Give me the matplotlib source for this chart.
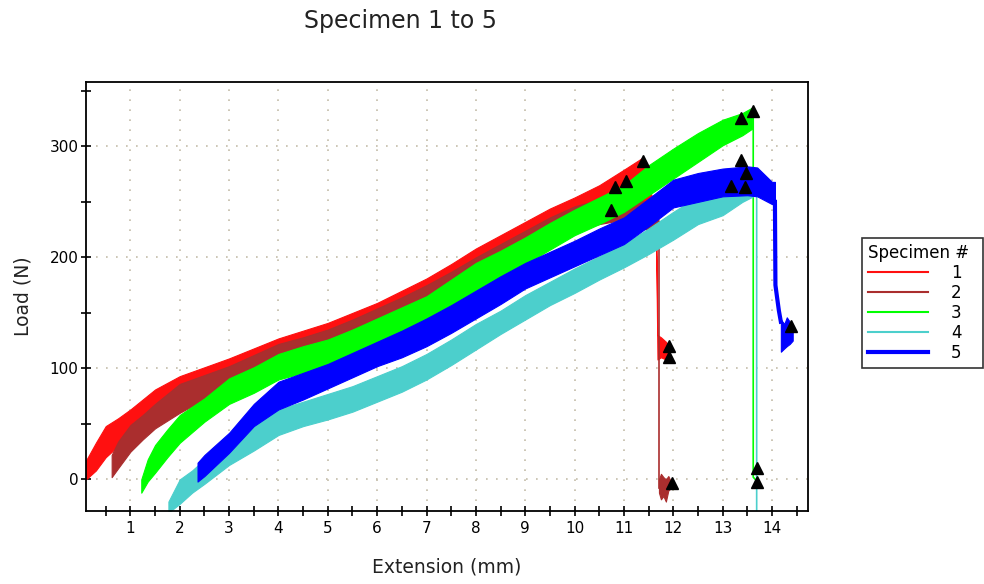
import matplotlib
matplotlib.use('Agg')
import matplotlib.pyplot as plt
from matplotlib.lines import Line2D
from matplotlib.ticker import MultipleLocator

# ---------------------------------------------------------------------------
# data (noise shown as low/high envelope per curve)
# ---------------------------------------------------------------------------
labels = ['1', '2', '3', '4', '5']
colors = ['#ff1010', '#aa2e2e', '#00ff00', '#4ccfcc', '#0000ff']

# specimen 1
x1 = [0.1, 0.3, 0.5, 0.75, 1.0, 1.5, 2.0, 2.5, 3.0, 3.5, 4.0, 4.5, 5.0, 5.5, 6.0,
      6.5, 7.0, 7.5, 8.0, 8.5, 9.0, 9.5, 10.0, 10.5, 11.0, 11.35, 11.5, 11.65,
      11.68, 11.75, 11.85, 11.92]
lo1 = [0, 8, 20, 30, 38, 52, 67, 75, 84, 93, 102, 107, 113, 122, 132,
       143, 154, 165, 177, 189, 201, 213, 225, 236, 252, 255, 232, 220,
       108, 110, 108, 108]
hi1 = [17, 33, 48, 55, 63, 81, 93, 101, 109, 118, 127, 134, 141, 150, 159,
       170, 181, 194, 208, 220, 232, 244, 254, 265, 279, 289, 265, 242,
       130, 128, 124, 120]

# specimen 2
x2 = [0.62, 0.75, 1.0, 1.25, 1.5, 2.0, 2.5, 3.0, 3.5, 4.0, 4.5, 5.0, 5.5, 6.0,
      6.5, 7.0, 7.5, 8.0, 8.5, 9.0, 9.5, 10.0, 10.5, 11.0, 11.3, 11.6, 11.7]
lo2 = [2, 10, 25, 36, 46, 60, 72, 78, 90, 100, 108, 114, 123, 133,
       144, 155, 166, 178, 190, 202, 212, 224, 230, 234, 228, 222, 223]
hi2 = [22, 34, 49, 58, 68, 86, 94, 102, 112, 122, 128, 135, 144, 154,
       164, 175, 187, 200, 212, 224, 236, 246, 252, 254, 252, 247, 242]
drop2_x = [11.71, 11.71]
drop2_y = [232, -8]
tail2_x = [11.71, 11.75, 11.8, 11.85, 11.9, 11.95]
tail2_lo = [-12, -18, -15, -20, -10, -8]
tail2_hi = [0, 5, 2, 0, 3, -2]

# specimen 3
x3 = [1.22, 1.35, 1.5, 1.75, 2.0, 2.5, 3.0, 3.5, 4.0, 4.5, 5.0, 5.5, 6.0, 6.5,
      7.0, 7.5, 8.0, 8.5, 9.0, 9.5, 10.0, 10.5, 11.0, 11.5, 12.0, 12.5, 13.0,
      13.4, 13.6]
lo3 = [-12, -2, 6, 20, 33, 52, 68, 78, 90, 96, 101, 112, 123, 132,
       142, 156, 170, 182, 194, 207, 220, 230, 241, 256, 271, 286, 301,
       310, 316]
hi3 = [0, 18, 31, 45, 58, 73, 91, 101, 113, 120, 126, 135, 145, 155,
       165, 180, 195, 206, 218, 231, 243, 254, 265, 283, 298, 312, 324,
       330, 335]
drop3_x = [13.62, 13.62, 13.66]
drop3_y = [330, 2, 0]

# specimen 4
x4 = [1.77, 2.0, 2.25, 2.5, 3.0, 3.5, 4.0, 4.5, 5.0, 5.5, 6.0, 6.5, 7.0, 7.5,
      8.0, 8.5, 9.0, 9.5, 10.0, 10.5, 11.0, 11.5, 12.0, 12.5, 13.0, 13.4, 13.62]
lo4 = [-30, -22, -12, -4, 13, 26, 40, 48, 54, 61, 70, 79, 90, 103,
       117, 131, 144, 157, 168, 180, 191, 203, 216, 230, 238, 250, 255]
hi4 = [-20, 0, 8, 18, 35, 49, 63, 70, 77, 84, 93, 102, 113, 126,
       140, 152, 166, 178, 190, 201, 212, 226, 241, 255, 262, 266, 268]
drop4_x = [13.66, 13.69, 13.69]
drop4_y = [262, 255, -40]

# specimen 5
x5 = [2.36, 2.5, 3.0, 3.5, 4.0, 4.5, 5.0, 5.5, 6.0, 6.5, 7.0, 7.5, 8.0, 8.5,
      9.0, 9.5, 10.0, 10.5, 11.0, 11.5, 12.0, 12.5, 13.0, 13.5, 13.7, 14.0, 14.06]
lo5 = [-2, 3, 24, 48, 63, 72, 82, 92, 102, 110, 120, 132, 145, 158,
       172, 182, 192, 202, 212, 228, 245, 250, 255, 256, 255, 248, 248]
hi5 = [15, 22, 42, 68, 88, 96, 104, 114, 124, 134, 145, 157, 170, 183,
       195, 205, 215, 226, 236, 253, 270, 276, 280, 282, 281, 268, 268]
drop5_x = [14.06, 14.07, 14.1, 14.14, 14.18]
drop5_y = [250, 175, 165, 152, 142]
tail5_x = [14.18, 14.25, 14.3, 14.36, 14.42]
tail5_lo = [115, 118, 120, 122, 125]
tail5_hi = [144, 140, 146, 142, 138]

# result markers (black triangles)
mark_x = [10.74, 10.82, 11.05, 11.38, 11.91, 11.91, 11.97,
          13.38, 13.62, 13.69, 13.69, 13.16, 13.45, 13.38, 13.48, 14.38]
mark_y = [243, 263, 269, 287, 120, 110, -3,
          326, 332, 10, -2, 264, 263, 288, 276, 138]

# ---------------------------------------------------------------------------
fig = plt.figure(figsize=(9.84, 5.84), dpi=100)
ax = fig.add_axes([86 / 984, 1 - 511 / 584, 722 / 984, 429 / 584])

ax.fill_between(x1, lo1, hi1, color=colors[0], lw=0.8, zorder=2)
ax.fill_between(x2, lo2, hi2, color=colors[1], lw=0.8, zorder=2)
ax.plot(drop2_x, drop2_y, color=colors[1], lw=1.2, zorder=2)
ax.fill_between(tail2_x, tail2_lo, tail2_hi, color=colors[1], lw=0.8, zorder=2)
ax.fill_between(x3, lo3, hi3, color=colors[2], lw=0.8, zorder=2)
ax.plot(drop3_x, drop3_y, color=colors[2], lw=1.2, zorder=2)
ax.fill_between(x4, lo4, hi4, color=colors[3], lw=0.8, zorder=2)
ax.plot(drop4_x, drop4_y, color=colors[3], lw=1.2, zorder=2)
ax.fill_between(x5, lo5, hi5, color=colors[4], lw=0.8, zorder=2)
ax.plot(drop5_x, drop5_y, color=colors[4], lw=3, zorder=2)
ax.fill_between(tail5_x, tail5_lo, tail5_hi, color=colors[4], lw=0.8, zorder=2)

ax.plot(mark_x, mark_y, ls='none', marker='^', ms=8, color='black', zorder=4)

ax.set_xlim(0.1, 14.73)
ax.set_ylim(-28.5, 358)
ax.xaxis.set_major_locator(MultipleLocator(1))
ax.xaxis.set_minor_locator(MultipleLocator(0.5))
ax.yaxis.set_major_locator(MultipleLocator(100))
ax.yaxis.set_minor_locator(MultipleLocator(50))
ax.tick_params(which='both', direction='inout', length=7, width=1.2,
               labelsize=11, top=False, right=False)
ax.tick_params(axis='y', pad=2)
ax.grid(True, which='major', color='#c3bca9', linestyle=(0, (1, 5)), lw=1.2)
for s in ax.spines.values():
    s.set_linewidth(1.3)
    s.set_color('black')

ax.set_xlabel('Extension (mm)', fontsize=13.5, color='#222222', labelpad=16)
ax.set_ylabel('Load (N)', fontsize=13.5, color='#222222', labelpad=12)
fig.text(400 / 984, 1 - 21 / 584, 'Specimen 1 to 5', fontsize=17,
         ha='center', va='center', color='#222222')

handles = [Line2D([], [], color=c, lw=(3 if i == 4 else 1.5))
           for i, c in enumerate(colors)]
leg = fig.legend(handles, labels, title='Specimen #', loc='upper left',
                 bbox_to_anchor=(862 / 984, 1 - 375 / 584, 121 / 984, 137 / 584),
                 mode='expand',
                 fontsize=12, title_fontsize=12, frameon=True, fancybox=False,
                 edgecolor='black', handlelength=3.6, handletextpad=1.4,
                 labelspacing=0.12, borderpad=0.35, borderaxespad=0,
                 alignment='left')
leg.get_frame().set_linewidth(1.2)

fig.savefig('out.png', dpi=100, facecolor='white')
